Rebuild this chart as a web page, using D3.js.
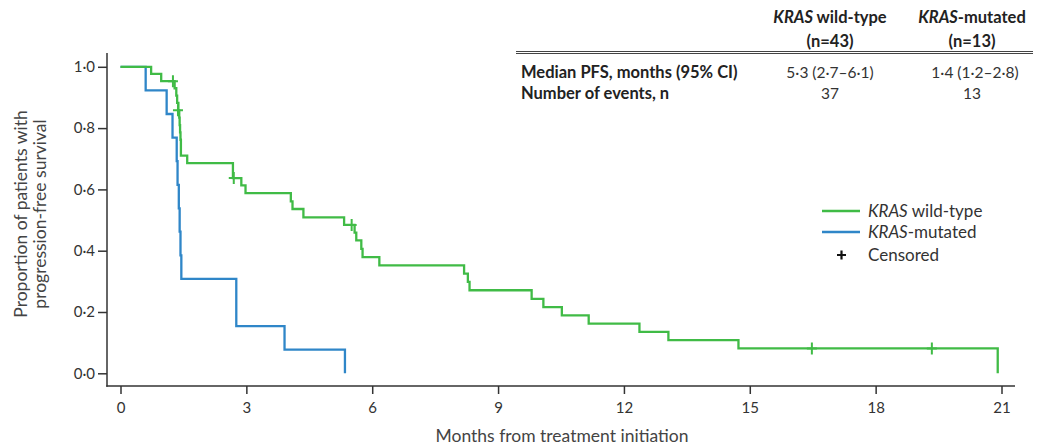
<!DOCTYPE html>
<html>
<head>
<meta charset="utf-8">
<script src="https://cdn.jsdelivr.net/npm/d3@7"></script>
<style>
  body { margin: 0; background: #fff; }
  svg { font-family: Lato, "Open Sans", sans-serif; }
</style>
</head>
<body>
<div id="chart"></div>
<script>
// KM step points: months and proportion after each drop
var wildTimes = [0, 0.73, 0.97, 1.29, 1.33, 1.35, 1.38, 1.40, 1.41, 1.42, 1.43, 1.44, 1.59, 2.68, 2.88, 2.98,
                 4.06, 4.10, 4.36, 5.33, 5.58, 5.62, 5.74, 5.77, 6.17, 8.19, 8.28, 8.32,
                 9.80, 10.08, 10.52, 11.16, 12.37, 13.06, 14.73, 20.91];
var wildSurv  = [1.0, 0.977, 0.953, 0.930, 0.906, 0.882, 0.858, 0.834, 0.810, 0.786, 0.762, 0.710, 0.686, 0.637, 0.613, 0.588,
                 0.561, 0.536, 0.509, 0.484, 0.459, 0.434, 0.406, 0.379, 0.352, 0.325, 0.298, 0.271,
                 0.243, 0.216, 0.189, 0.162, 0.135, 0.108, 0.081, 0];
var wildCensorT = [1.25, 1.37, 2.70, 5.51, 16.48, 19.34];
var wildCensorS = [0.953, 0.858, 0.637, 0.484, 0.081, 0.081];

var mutTimes = [0, 0.60, 1.10, 1.24, 1.34, 1.36, 1.39, 1.41, 1.43, 1.45, 2.76, 3.91, 5.35];
var mutSurv  = [1.0, 0.923, 0.846, 0.769, 0.692, 0.615, 0.538, 0.462, 0.385, 0.308, 0.154, 0.077, 0];

var xTicks = [0, 3, 6, 9, 12, 15, 18, 21];
var yTicks = [0, 0.2, 0.4, 0.6, 0.8, 1.0];

var green = "#40bb46", blue = "#2f86c8", axisCol = "#333";

var w = 1041, h = 448;
var svg = d3.select("#chart").append("svg").attr("width", w).attr("height", h);

var x = d3.scaleLinear().domain([0, 21]).range([120.5, 1001.5]);
var y = d3.scaleLinear().domain([0, 1]).range([373.3, 66.8]);

var fmt = function(d) { return d3.format(".1f")(d).replace(".", "\u00b7"); };

// axes
var yAx = svg.append("g").attr("transform", "translate(107,0)")
  .call(d3.axisLeft(y).tickValues(yTicks).tickSize(9).tickPadding(3).tickFormat(fmt));
var xAx = svg.append("g").attr("transform", "translate(0,386)")
  .call(d3.axisBottom(x).tickValues(xTicks).tickSize(8).tickPadding(8));
[yAx, xAx].forEach(function(g) {
  g.select(".domain").remove();
  g.selectAll("line").attr("stroke", axisCol).attr("stroke-width", 1.5);
  g.selectAll("text").attr("fill", "#333").style("font-size", "15px").style("font-family", "Lato, sans-serif");
});
svg.append("line").attr("x1", 107).attr("x2", 107).attr("y1", 53).attr("y2", 386.75)
  .attr("stroke", axisCol).attr("stroke-width", 1.5);
svg.append("line").attr("x1", 106.25).attr("x2", 1015).attr("y1", 386).attr("y2", 386)
  .attr("stroke", axisCol).attr("stroke-width", 1.5);

// axis titles
svg.append("text").attr("x", 562).attr("y", 442).attr("text-anchor", "middle")
  .attr("fill", "#444").style("font-size", "17.5px").text("Months from treatment initiation");
var yt = svg.append("text").attr("transform", "translate(27,214) rotate(-90)")
  .attr("text-anchor", "middle").attr("fill", "#444").style("font-size", "17.5px");
yt.append("tspan").attr("x", 0).attr("dy", 0).text("Proportion of patients with");
yt.append("tspan").attr("x", 0).attr("dy", 19).text("progression-free survival");

// curves
var line = d3.line().x(d => x(d[0])).y(d => y(d[1])).curve(d3.curveStepAfter);
var mutPts = d3.zip(mutTimes, mutSurv);
var wildPts = d3.zip(wildTimes, wildSurv);

svg.append("path").datum(mutPts).attr("d", line)
  .attr("fill", "none").attr("stroke", blue).attr("stroke-width", 2.3);
svg.append("path").datum(wildPts).attr("d", line)
  .attr("fill", "none").attr("stroke", green).attr("stroke-width", 2.3);

svg.selectAll(".censor").data(d3.zip(wildCensorT, wildCensorS)).enter()
  .append("path").attr("class", "censor")
  .attr("d", d => "M" + (x(d[0]) - 5) + "," + y(d[1]) + "h10M" + x(d[0]) + "," + (y(d[1]) - 6) + "v12")
  .attr("stroke", green).attr("stroke-width", 2).attr("fill", "none");

// legend
var legend = [
  { label: "KRAS", rest: " wild-type", color: green },
  { label: "KRAS", rest: "-mutated", color: blue }
];
legend.forEach(function(d, i) {
  var ly = 211 + i * 21;
  svg.append("line").attr("x1", 822).attr("x2", 860).attr("y1", ly).attr("y2", ly)
    .attr("stroke", d.color).attr("stroke-width", 2.5);
  var t = svg.append("text").attr("x", 868).attr("y", ly + 6).attr("fill", "#333").style("font-size", "17px");
  t.append("tspan").style("font-style", "italic").text(d.label);
  t.append("tspan").text(d.rest);
});
svg.append("path").attr("d", "M837,255h9M841.5,250.5v9").attr("stroke", "#111").attr("stroke-width", 2.2);
svg.append("text").attr("x", 868).attr("y", 261).attr("fill", "#333").style("font-size", "17px").text("Censored");

// summary table
var colX = [830, 972];
var heads = [["KRAS", " wild-type", "(n=43)"], ["KRAS", "-mutated", "(n=13)"]];
var rowLabels = ["Median PFS, months (95% CI)", "Number of events, n"];
var cells = [["5\u00b73 (2\u00b77\u20136\u00b71)", "1\u00b74 (1\u00b72\u20132\u00b78)"], ["37", "13"]];

heads.forEach(function(hd, i) {
  var t = svg.append("text").attr("x", colX[i]).attr("y", 23).attr("text-anchor", "middle")
    .attr("fill", "#222").style("font-size", "16.5px").style("font-weight", "bold");
  t.append("tspan").style("font-style", "italic").text(hd[0]);
  t.append("tspan").text(hd[1]);
  svg.append("text").attr("x", colX[i]).attr("y", 47).attr("text-anchor", "middle")
    .attr("fill", "#222").style("font-size", "16.5px").style("font-weight", "bold").text(hd[2]);
});
svg.append("line").attr("x1", 516).attr("x2", 1033).attr("y1", 51.5).attr("y2", 51.5).attr("stroke", "#444").attr("stroke-width", 1);
svg.append("line").attr("x1", 516).attr("x2", 1033).attr("y1", 53.5).attr("y2", 53.5).attr("stroke", "#444").attr("stroke-width", 1);

rowLabels.forEach(function(lab, r) {
  var ry = 78 + r * 21;
  svg.append("text").attr("x", 521).attr("y", ry).attr("fill", "#222")
    .style("font-size", "16.5px").style("font-weight", "bold").text(lab);
  cells[r].forEach(function(c, i) {
    svg.append("text").attr("x", colX[i] + (r === 0 && i === 1 ? 3 : 0)).attr("y", ry).attr("text-anchor", "middle")
      .attr("fill", "#333").style("font-size", "15.5px").text(c);
  });
});
</script>
</body>
</html>
